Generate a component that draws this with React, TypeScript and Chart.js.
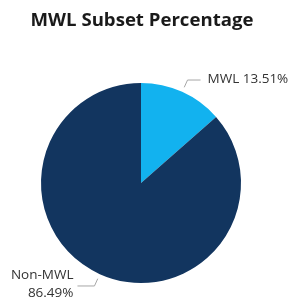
import React, { useEffect, useRef } from "react";
import { Chart, registerables } from "chart.js";

Chart.register(...registerables);

const categories = ["MWL", "Non-MWL"];
const values = [13.51, 86.49];
const colors = ["#12B2EF", "#12355F"];
const titleText = "MWL Subset Percentage";

const labelPlugin = {
  id: "outLabels",
  afterDatasetsDraw(chart: any) {
    const ctx = chart.ctx;
    const meta = chart.getDatasetMeta(0);
    ctx.save();
    // title
    ctx.font = "bold 18.6px 'Open Sans'";
    ctx.fillStyle = "#1a1a1a";
    ctx.textAlign = "center";
    ctx.textBaseline = "middle";
    ctx.fillText(titleText, 142, 21);

    meta.data.forEach((arc: any, i: number) => {
      const { x, y, startAngle, endAngle, outerRadius } = arc.getProps(
        ["x", "y", "startAngle", "endAngle", "outerRadius"],
        true
      );
      const mid = (startAngle + endAngle) / 2;
      const c = Math.cos(mid);
      const s = Math.sin(mid);
      const p1x = x + (outerRadius + 5) * c;
      const p1y = y + (outerRadius + 5) * s;
      const p2x = x + (outerRadius + 13) * c;
      const p2y = y + (outerRadius + 13) * s;
      const right = c >= 0;
      const p3x = p2x + (right ? 13 : -17);
      ctx.strokeStyle = "#a6a6a6";
      ctx.lineWidth = 1;
      ctx.beginPath();
      ctx.moveTo(p1x, p1y);
      ctx.lineTo(p2x, p2y);
      ctx.lineTo(p3x, p2y);
      ctx.stroke();
      ctx.font = "13.5px 'Open Sans'";
      ctx.fillStyle = "#333333";
      ctx.textBaseline = "middle";
      const txt = `${categories[i]} ${values[i].toFixed(2)}%`;
      if (right) {
        ctx.textAlign = "left";
        ctx.fillText(txt, p3x + 7, p2y - 1);
      } else {
        ctx.textAlign = "right";
        ctx.fillText(categories[i], p3x - 4, p2y - 11);
        ctx.fillText(values[i].toFixed(2) + "%", p3x - 4, p2y + 7);
      }
    });
    ctx.restore();
  },
};

export default function App() {
  const ref = useRef<HTMLCanvasElement>(null);
  useEffect(() => {
    if (!ref.current) return;
    const chart = new Chart(ref.current, {
      type: "pie",
      data: {
        labels: categories,
        datasets: [
          {
            data: values,
            backgroundColor: colors,
            borderWidth: 0,
          },
        ],
      },
      options: {
        animation: false,
        responsive: false,
        events: [],
        layout: { padding: { top: 83, bottom: 22, left: 41, right: 48 } },
        plugins: {
          legend: { display: false },
          title: { display: false },
          tooltip: { enabled: false },
        },
      },
      plugins: [labelPlugin],
    });
    return () => chart.destroy();
  }, []);
  return (
    <div style={{ position: "fixed", left: 0, top: 0, width: 289, height: 305, background: "#fff" }}>
      <canvas ref={ref} width={289} height={305} style={{ width: 289, height: 305 }} />
    </div>
  );
}
